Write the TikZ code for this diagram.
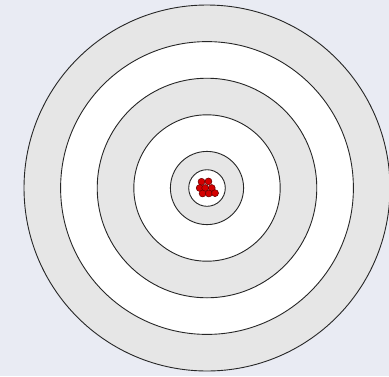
\documentclass[tikz,border=0pt]{standalone}
\usepackage{tikz}
\usepackage{xcolor}
\definecolor{bgblue}{HTML}{E9EBF3}
\definecolor{ringgray}{HTML}{E6E6E6}
\definecolor{shotred}{HTML}{D40000}

\begin{document}
\begin{tikzpicture}[ring/.style={draw=black!85, line width=0.7pt},
                    shot/.style={fill=shotred, draw=black!60!red, line width=0.4pt}]

\def\shotr{0.095}

% background
\fill[bgblue] (-5.656,-5.137) rectangle (4.973,5.137);
\useasboundingbox (-5.656,-5.137) rectangle (4.973,5.137);

% rings, outer to inner
\foreach \r/\c in {5/ringgray, 4/white, 3/ringgray, 2/white, 1/ringgray, 0.5/white}
  \filldraw[ring, fill=\c] (0,0) circle (\r);

% shot group
\foreach \x/\y in {-0.15/0.17, 0.04/0.18,
                   -0.20/0.00, -0.05/0.00, 0.13/0.00,
                   -0.12/-0.15, 0.05/-0.15, 0.22/-0.14}
  \filldraw[shot] (\x,\y) circle (\shotr);

\end{tikzpicture}
\end{document}
